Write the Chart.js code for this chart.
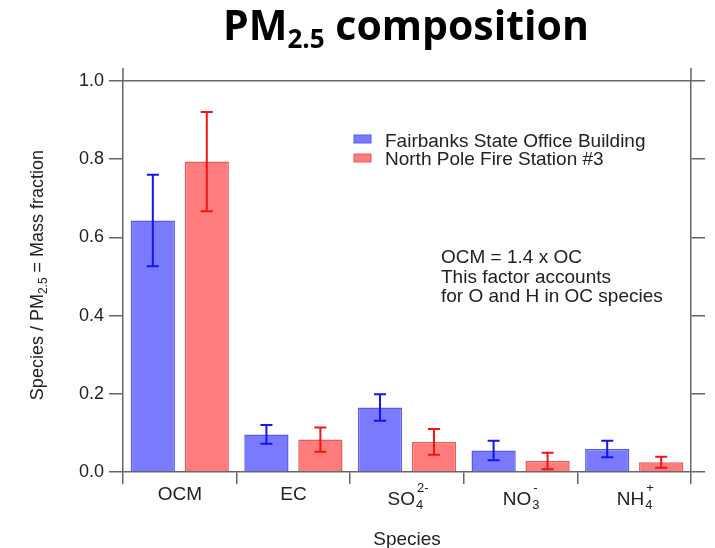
<!DOCTYPE html>
<html>
<head>
<meta charset="utf-8">
<script src="https://cdn.jsdelivr.net/npm/chart.js@4"></script>
<style>
  html, body { margin: 0; padding: 0; background: #fff; }
  #wrap { position: relative; width: 715px; height: 548px; }
  #title { position: absolute; left: 50px; width: 712px; top: -4px; text-align: center;
           font-family: 'Open Sans', sans-serif; font-weight: 700; font-size: 41px; color: #000; }
  #title sub { font-size: 26px; vertical-align: -8px; line-height: 0; }
</style>
</head>
<body>
<div id="wrap">
  <canvas id="grafico" width="715" height="548"></canvas>
  <div id="title">PM<sub>2.5</sub> composition</div>
</div>
<script>
(()=>{
const categories = ['OCM', 'EC', 'SO4', 'NO3', 'NH4'];
const labelSub = ['', '', '4', '3', '4'];
const labelSup = ['', '', '2-', '-', '+'];
const fairbanks = [0.643, 0.096, 0.165, 0.055, 0.059];
const fairbanksErr = [0.117, 0.024, 0.034, 0.025, 0.021];
const northPole = [0.794, 0.083, 0.077, 0.028, 0.025];
const northPoleErr = [0.127, 0.031, 0.033, 0.021, 0.014];
const yTicks = [0, 0.2, 0.4, 0.6, 0.8, 1.0];
const seriesNames = ['Fairbanks State Office Building', 'North Pole Fire Station #3'];
const notes = ['OCM = 1.4 x OC', 'This factor accounts', 'for O and H in OC species'];

const FONT = "'Liberation Sans', Arial, sans-serif";
const AXIS = '#666';
const fills = ['rgba(122,122,255,1)', 'rgba(255,124,124,1)'];
const borders = ['#5a5ae6', '#e65a5a'];
const errCol = ['#1414f0', '#f01414'];
const errs = [fairbanksErr, northPoleErr];

// error bars + text on the canvas
const extras = {
    id: 'extras',
    afterDatasetsDraw(chart) {
        const ctx = chart.ctx, y = chart.scales.y;
        ctx.save();
        chart.data.datasets.forEach((ds, i) => {
            chart.getDatasetMeta(i).data.forEach((bar, j) => {
                const v = ds.data[j], e = errs[i][j];
                const top = y.getPixelForValue(v + e), bot = y.getPixelForValue(v - e);
                ctx.strokeStyle = errCol[i];
                ctx.lineWidth = 2;
                ctx.beginPath();
                ctx.moveTo(bar.x, top); ctx.lineTo(bar.x, bot);
                ctx.moveTo(bar.x - 6, top); ctx.lineTo(bar.x + 6, top);
                ctx.moveTo(bar.x - 6, bot); ctx.lineTo(bar.x + 6, bot);
                ctx.stroke();
            });
        });
        ctx.restore();
    },
    afterDraw(chart) {
        const ctx = chart.ctx, a = chart.chartArea, x = chart.scales.x;
        ctx.save();
        // corner extensions of the frame
        ctx.strokeStyle = AXIS; ctx.lineWidth = 1.5;
        ctx.beginPath();
        ctx.moveTo(a.left, a.top); ctx.lineTo(a.left, a.top - 13);
        ctx.moveTo(a.right, a.top); ctx.lineTo(a.right, a.top - 13);
        ctx.stroke();

        ctx.fillStyle = '#222';
        // x tick labels with sub/superscripts
        categories.forEach((c, j) => {
            const cx = x.getPixelForValue(j);
            const big = '19px ' + FONT, small = '13px ' + FONT;
            const base = labelSup[j] ? 505 : 500;
            const main = c.replace(labelSub[j], '');
            ctx.font = big;
            const w0 = ctx.measureText(main).width;
            ctx.font = small;
            const w1 = ctx.measureText(labelSub[j]).width;
            const w2 = ctx.measureText(labelSup[j]).width;
            let px = cx - (w0 + Math.max(w1, w2)) / 2;
            ctx.textAlign = 'left'; ctx.textBaseline = 'alphabetic';
            ctx.font = big;
            ctx.fillText(main, px, base);
            ctx.font = small;
            ctx.fillText(labelSub[j], px + w0 + 1, base + 4);
            ctx.fillText(labelSup[j], px + w0 + 2, base - 13);
        });

        // x title
        ctx.font = '19px ' + FONT;
        ctx.textAlign = 'center';
        ctx.fillText('Species', 407, 545);

        // y title rotated, with subscript
        ctx.save();
        ctx.translate(43, 275);
        ctx.rotate(-Math.PI / 2);
        const p1 = 'Species / PM', p2 = '2.5', p3 = ' = Mass fraction';
        ctx.font = '18px ' + FONT;
        const a1 = ctx.measureText(p1).width, a3 = ctx.measureText(p3).width;
        ctx.font = '12px ' + FONT;
        const a2 = ctx.measureText(p2).width;
        let sx = -(a1 + a2 + a3) / 2;
        ctx.textAlign = 'left';
        ctx.font = '18px ' + FONT; ctx.fillText(p1, sx, 0); sx += a1;
        ctx.font = '12px ' + FONT; ctx.fillText(p2, sx, 4); sx += a2;
        ctx.font = '18px ' + FONT; ctx.fillText(p3, sx, 0);
        ctx.restore();

        // legend
        ctx.font = '19px ' + FONT;
        ctx.textAlign = 'left';
        seriesNames.forEach((n, i) => {
            const by = 135 + i * 19;
            ctx.fillStyle = fills[i];
            ctx.fillRect(354, by, 17, 8);
            ctx.strokeStyle = borders[i]; ctx.lineWidth = 1;
            ctx.strokeRect(354, by, 17, 8);
            ctx.fillStyle = '#222';
            ctx.fillText(n, 385, 147 + i * 18);
        });

        // note
        notes.forEach((t, i) => ctx.fillText(t, 441, 263 + i * 19.5));
        ctx.restore();
    }
};

new Chart(document.getElementById('grafico'), {
    type: 'bar',
    data: {
        labels: categories,
        datasets: [fairbanks, northPole].map((d, i) => ({
            label: seriesNames[i],
            data: d,
            backgroundColor: fills[i],
            borderColor: borders[i],
            borderWidth: 1.5,
            categoryPercentage: 0.95,
            barPercentage: 0.82
        }))
    },
    options: {
        responsive: false,
        animation: false,
        layout: { padding: { top: 81, left: 0, right: 0, bottom: 0 } },
        plugins: { legend: { display: false }, tooltip: { enabled: false } },
        scales: {
            x: {
                offset: true,
                grid: { offset: true, drawOnChartArea: false, tickLength: 12, color: AXIS, lineWidth: 1.5 },
                border: { color: AXIS, width: 1.5 },
                ticks: { display: false },
                afterFit: s => { s.height = 76; }
            },
            xTop: {
                position: 'top',
                type: 'category',
                grid: { display: false },
                border: { color: AXIS, width: 1.5 },
                ticks: { display: false },
                afterFit: s => { s.height = 0; }
            },
            y: {
                min: 0, max: 1,
                afterBuildTicks: s => { s.ticks = yTicks.map(v => ({ value: v })); },
                ticks: { callback: v => v.toFixed(1), font: { size: 18, family: FONT }, color: '#222', padding: 5 },
                grid: { drawOnChartArea: false, tickLength: 14, color: AXIS, lineWidth: 1.5 },
                border: { color: AXIS, width: 1.5 },
                afterFit: s => { s.width = 123; }
            },
            yRight: {
                position: 'right',
                min: 0, max: 1,
                afterBuildTicks: s => { s.ticks = yTicks.map(v => ({ value: v })); },
                ticks: { display: false },
                grid: { drawOnChartArea: false, tickLength: 14, color: AXIS, lineWidth: 1.5 },
                border: { color: AXIS, width: 1.5 },
                afterFit: s => { s.width = 24; }
            }
        }
    },
    plugins: [extras]
});
})();
</script>
</body>
</html>
